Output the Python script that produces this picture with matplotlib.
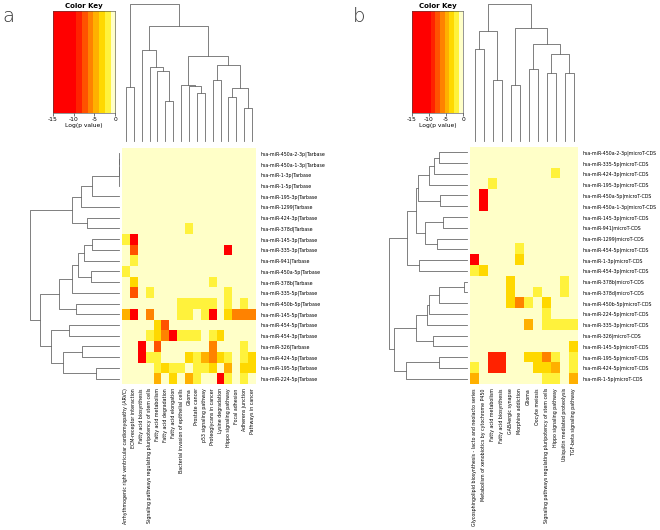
import matplotlib
matplotlib.use("Agg")
import matplotlib.pyplot as plt
import numpy as np
from matplotlib.colors import ListedColormap, BoundaryNorm

W, H = 660, 530

# colour key: log(p value) bands
key_breaks = [-15, -12.3, -9.5, -8.1, -6.7, -5.35, -3.97, -2.6, -1.2, 0]
key_colors = ["#FF0000", "#FF0000", "#FF2200", "#FF5200", "#FF8200",
              "#FFB000", "#FFD800", "#FFF23C", "#FFFFC8"]
key_ticks = [-15, -10, -5, 0]

# ---- panel a (Tarbase) ----
rows_a = ["hsa-miR-450a-2-3p|Tarbase", "hsa-miR-450a-1-3p|Tarbase", "hsa-miR-1-3p|Tarbase",
          "hsa-miR-1-5p|Tarbase", "hsa-miR-195-3p|Tarbase", "hsa-miR-1299|Tarbase",
          "hsa-miR-424-3p|Tarbase", "hsa-miR-378d|Tarbase", "hsa-miR-145-3p|Tarbase",
          "hsa-miR-335-3p|Tarbase", "hsa-miR-941|Tarbase", "hsa-miR-450a-5p|Tarbase",
          "hsa-miR-378b|Tarbase", "hsa-miR-335-5p|Tarbase", "hsa-miR-450b-5p|Tarbase",
          "hsa-miR-145-5p|Tarbase", "hsa-miR-454-5p|Tarbase", "hsa-miR-454-3p|Tarbase",
          "hsa-miR-326|Tarbase", "hsa-miR-424-5p|Tarbase", "hsa-miR-195-5p|Tarbase",
          "hsa-miR-224-5p|Tarbase"]
cols_a = ["Arrhythmogenic right ventricular cardiomyopathy (ARVC)", "ECM-receptor interaction",
          "Fatty acid biosynthesis", "Signaling pathways regulating pluripotency of stem cells",
          "Fatty acid metabolism", "Fatty acid degradation", "Fatty acid elongation",
          "Bacterial invasion of epithelial cells", "Glioma", "Prostate cancer",
          "p53 signaling pathway", "Proteoglycans in cancer", "Lysine degradation",
          "Hippo signaling pathway", "Focal adhesion", "Adherens junction", "Pathways in cancer"]
# (row, col, log p) for coloured cells; others are ~0
cells_a = [
    (7, 8, -2.2),
    (8, 0, -1.8), (8, 1, -11),
    (9, 1, -7.2), (9, 13, -11),
    (10, 1, -2.4),
    (11, 0, -2.4),
    (12, 1, -3.5), (12, 11, -2.2),
    (13, 1, -7.5), (13, 3, -2.2), (13, 13, -2.2),
    (14, 7, -2.2), (14, 8, -2.2), (14, 9, -2.2), (14, 10, -2.2), (14, 11, -2.2), (14, 13, -2.2), (14, 15, -2.2),
    (15, 0, -5), (15, 1, -11), (15, 3, -6), (15, 7, -2.2), (15, 8, -2.2), (15, 10, -2.2), (15, 11, -11),
    (15, 13, -3.5), (15, 14, -6), (15, 15, -6), (15, 16, -6),
    (16, 4, -3.5), (16, 5, -7.5),
    (17, 3, -2.2), (17, 4, -3.5), (17, 5, -6), (17, 6, -11), (17, 7, -2.2), (17, 8, -2.2), (17, 9, -2.2),
    (17, 11, -2.2), (17, 12, -3.5),
    (18, 2, -11), (18, 4, -7.5), (18, 11, -6), (18, 15, -2.2),
    (19, 2, -11), (19, 3, -2.2), (19, 4, -2.2), (19, 8, -3.5), (19, 9, -2.2), (19, 10, -4.5), (19, 11, -6),
    (19, 12, -3.5), (19, 13, -2.2), (19, 15, -2.2), (19, 16, -3.5),
    (20, 4, -2.2), (20, 5, -3.5), (20, 6, -2.2), (20, 7, -2.2), (20, 9, -2.2), (20, 10, -2.2), (20, 11, -3.5),
    (20, 13, -4.5), (20, 15, -3.5), (20, 16, -3.5),
    (21, 4, -4.5), (21, 6, -3.5), (21, 8, -4.5), (21, 9, -2.2), (21, 12, -11), (21, 13, -2.2), (21, 15, -2.2),
]
# dendrogram merges: (child, child, height); ids >= n are earlier merges
col_tree_a = [(0, 1, 163), (5, 6, 120), (4, 18, 209), (3, 19, 221), (2, 20, 272), (9, 10, 145),
              (8, 22, 164), (7, 23, 169), (11, 12, 184), (13, 14, 133), (15, 16, 100), (26, 27, 158),
              (25, 28, 227), (24, 29, 254), (21, 30, 345), (17, 31, 410)]
row_tree_a = [(0, 1, 0), (22, 2, 0), (23, 3, 0), (24, 4, 82), (25, 5, 113), (6, 7, 95), (26, 27, 141),
              (8, 9, 82), (29, 10, 104), (11, 12, 85), (30, 31, 122), (32, 13, 141), (14, 15, 128),
              (33, 34, 181), (16, 17, 150), (18, 19, 112), (20, 21, 70), (37, 38, 167), (36, 39, 205),
              (35, 40, 237), (28, 41, 267)]

# ---- panel b (microT-CDS) ----
rows_b = ["hsa-miR-450a-2-3p|microT-CDS", "hsa-miR-335-5p|microT-CDS", "hsa-miR-424-3p|microT-CDS",
          "hsa-miR-195-3p|microT-CDS", "hsa-miR-450a-5p|microT-CDS", "hsa-miR-450a-1-3p|microT-CDS",
          "hsa-miR-145-3p|microT-CDS", "hsa-miR-941|microT-CDS", "hsa-miR-1299|microT-CDS",
          "hsa-miR-454-5p|microT-CDS", "hsa-miR-1-3p|microT-CDS", "hsa-miR-454-3p|microT-CDS",
          "hsa-miR-378b|microT-CDS", "hsa-miR-378d|microT-CDS", "hsa-miR-450b-5p|microT-CDS",
          "hsa-miR-224-5p|microT-CDS", "hsa-miR-335-3p|microT-CDS", "hsa-miR-326|microT-CDS",
          "hsa-miR-145-5p|microT-CDS", "hsa-miR-195-5p|microT-CDS", "hsa-miR-424-5p|microT-CDS",
          "hsa-miR-1-5p|microT-CDS"]
cols_b = ["Glycosphingolipid biosynthesis - lacto and neolacto series",
          "Metabolism of xenobiotics by cytochrome P450", "Fatty acid metabolism",
          "Fatty acid biosynthesis", "GABAergic synapse", "Morphine addiction", "Glioma",
          "Oocyte meiosis", "Signaling pathways regulating pluripotency of stem cells",
          "Hippo signaling pathway", "Ubiquitin mediated proteolysis", "TGF-beta signaling pathway"]
cells_b = [
    (2, 9, -2.5),
    (3, 2, -2.2),
    (4, 1, -11), (5, 1, -11),
    (9, 5, -2.2),
    (10, 0, -11), (10, 5, -3.5),
    (11, 0, -2.4), (11, 1, -3.5),
    (12, 4, -3.5), (12, 10, -2.4),
    (13, 4, -3.5), (13, 7, -2.2), (13, 10, -2.4),
    (14, 4, -3.5), (14, 5, -6), (14, 6, -2.2), (14, 8, -3.5),
    (15, 8, -2.2),
    (16, 6, -4.5), (16, 8, -2.2), (16, 9, -2.2), (16, 10, -2.2), (16, 11, -2.2),
    (18, 11, -3.5),
    (19, 2, -9), (19, 3, -9), (19, 6, -3.5), (19, 7, -3.5), (19, 8, -6.5), (19, 9, -2.4), (19, 11, -2.2),
    (20, 0, -2.2), (20, 2, -9), (20, 3, -9), (20, 7, -3.5), (20, 8, -3.5), (20, 9, -4.5), (20, 11, -2.2),
    (21, 0, -5), (21, 8, -2.2), (21, 9, -2.2), (21, 11, -4.5),
]
col_tree_b = [(0, 1, 277), (2, 3, 184), (12, 13, 330), (4, 5, 168), (6, 7, 215), (8, 9, 203),
              (10, 11, 205), (17, 18, 260), (16, 19, 292), (15, 20, 340), (14, 21, 410)]
row_tree_b = [(0, 1, 83), (22, 2, 98), (23, 3, 114), (4, 5, 81), (24, 25, 148), (6, 7, 71), (8, 9, 89),
              (27, 28, 126), (26, 29, 153), (10, 11, 144), (30, 31, 181), (12, 13, 8), (33, 14, 83),
              (34, 15, 114), (35, 16, 119), (17, 18, 101), (36, 37, 154), (19, 20, 83), (39, 21, 182),
              (38, 40, 218), (32, 41, 235)]

cmap = ListedColormap(key_colors)
norm = BoundaryNorm(key_breaks, cmap.N)
FS = 3.4
LINE = "#6a6a6a"


def px_axes(fig, x0, y0, x1, y1):
    return fig.add_axes([x0 / W, 1 - y1 / H, (x1 - x0) / W, (y1 - y0) / H])


def draw_tree(ax, n, tree, side):
    pos = [float(i) for i in range(n)]
    hts = [0.0] * n
    for a, b, h in tree:
        xs = [pos[a], pos[a], pos[b], pos[b]]
        ys = [hts[a], h, h, hts[b]]
        if side == "top":
            ax.plot(xs, ys, color=LINE, lw=0.6, clip_on=False)
        else:
            ax.plot(ys, xs, color=LINE, lw=0.6, clip_on=False)
        pos.append((pos[a] + pos[b]) / 2)
        hts.append(h)
    ax.axis("off")


def panel(fig, letter, lx, rows, cols, cells, col_tree, row_tree,
          key_box, hm_box, leaf_x, root_units):
    # colour key
    kx0, ky0, kx1, ky1 = key_box
    ak = px_axes(fig, kx0, ky0, kx1, ky1)
    ak.imshow(np.linspace(-15, 0, 400)[None, :], extent=[-15, 0, 0, 1], aspect="auto",
              cmap=cmap, norm=norm, interpolation="nearest")
    ak.set_yticks([])
    ak.set_xticks(key_ticks)
    ak.set_xticklabels([str(t) for t in key_ticks], fontsize=4.3)
    ak.tick_params(axis="x", length=2, width=0.4, pad=1)
    ak.set_xlabel("Log(p value)", fontsize=4.3, labelpad=0.5)
    ak.set_title("Color Key", fontsize=5, fontweight="bold", pad=2)
    for s in ak.spines.values():
        s.set_linewidth(0.4)
        s.set_color("#444444")

    hx0, hy0, hx1, hy1 = hm_box
    nr, nc = len(rows), len(cols)
    mat = np.zeros((nr, nc))
    for r, c, v in cells:
        mat[r, c] = v

    ah = px_axes(fig, hx0, hy0, hx1, hy1)
    ah.imshow(mat, cmap=cmap, norm=norm, aspect="auto", interpolation="nearest")
    for s in ah.spines.values():
        s.set_visible(False)
    ah.yaxis.tick_right()
    ah.set_yticks(range(nr))
    ah.set_yticklabels(rows, fontsize=FS)
    ah.set_xticks(range(nc))
    ah.set_xticklabels(cols, fontsize=FS, rotation=90)
    ah.tick_params(length=0, pad=3)

    # column dendrogram, units are 3 per pixel
    at = px_axes(fig, hx0, 0, hx1, 141)
    draw_tree(at, nc, col_tree, "top")
    at.set_xlim(-0.5, nc - 0.5)
    at.set_ylim(0, 141 * 3)

    # row dendrogram
    al = px_axes(fig, leaf_x - root_units, hy0, leaf_x, hy1)
    draw_tree(al, nr, row_tree, "left")
    al.set_ylim(nr - 0.5, -0.5)
    al.set_xlim(root_units * 3, 0)

    fig.text(lx / W, 1 - 16 / H, letter, fontsize=14, fontweight="light",
             ha="left", va="center", color="#333333")


fig = plt.figure(figsize=(W / 100, H / 100), dpi=100)
panel(fig, "a", 2, rows_a, cols_a, cells_a, col_tree_a, row_tree_a,
      (53, 11, 115, 113), (122, 148, 256, 384), 119, 119)
panel(fig, "b", 353, rows_b, cols_b, cells_b, col_tree_b, row_tree_b,
      (412, 11, 463, 113), (470, 147, 578, 384), 467, 137)
fig.savefig("out.png", dpi=100, facecolor="white")
